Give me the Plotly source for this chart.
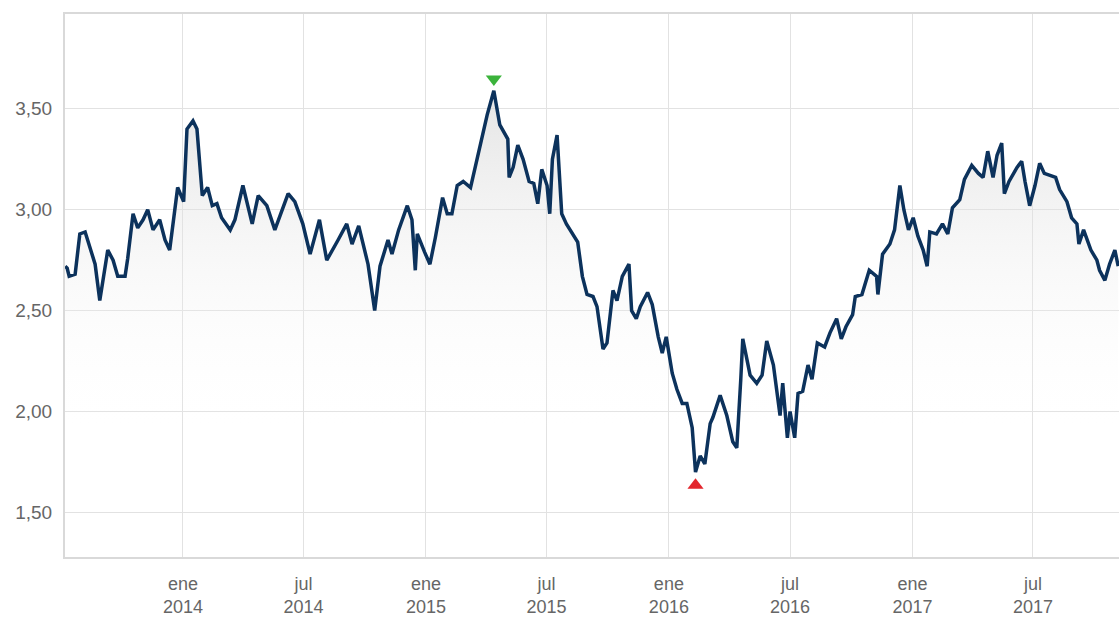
import numpy as np
import plotly.graph_objects as go

dates = [
    "2013-07-08", "2013-07-11", "2013-07-14", "2013-07-23", "2013-07-30", "2013-08-07",
    "2013-08-22", "2013-08-29", "2013-09-10", "2013-09-18", "2013-09-25", "2013-10-06",
    "2013-10-10", "2013-10-18", "2013-10-25", "2013-11-02", "2013-11-09", "2013-11-17",
    "2013-11-27", "2013-12-05", "2013-12-12", "2013-12-20", "2013-12-24", "2014-01-02",
    "2014-01-07", "2014-01-16", "2014-01-22", "2014-01-30", "2014-02-07", "2014-02-14",
    "2014-02-21", "2014-02-28", "2014-03-13", "2014-03-20", "2014-04-01", "2014-04-15",
    "2014-04-24", "2014-05-07", "2014-05-19", "2014-06-08", "2014-06-18", "2014-06-30",
    "2014-07-11", "2014-07-25", "2014-08-05", "2014-08-22", "2014-09-04", "2014-09-12",
    "2014-09-22", "2014-10-06", "2014-10-16", "2014-10-24", "2014-11-05", "2014-11-11",
    "2014-11-21", "2014-12-04", "2014-12-11", "2014-12-16", "2014-12-19", "2014-12-30",
    "2015-01-07", "2015-01-15", "2015-01-26", "2015-02-02", "2015-02-09", "2015-02-17",
    "2015-02-26", "2015-03-09", "2015-03-13", "2015-03-23", "2015-04-03", "2015-04-13",
    "2015-04-22", "2015-05-04", "2015-05-06", "2015-05-12", "2015-05-19", "2015-05-27",
    "2015-06-05", "2015-06-12", "2015-06-18", "2015-06-24", "2015-07-02", "2015-07-06",
    "2015-07-10", "2015-07-17", "2015-07-24", "2015-07-31", "2015-08-10", "2015-08-17",
    "2015-08-24", "2015-08-31", "2015-09-09", "2015-09-15", "2015-09-24", "2015-09-30",
    "2015-10-09", "2015-10-15", "2015-10-23", "2015-11-02", "2015-11-06", "2015-11-13",
    "2015-11-19", "2015-11-30", "2015-12-07", "2015-12-16", "2015-12-22", "2015-12-28",
    "2016-01-06", "2016-01-13", "2016-01-21", "2016-01-28", "2016-02-05", "2016-02-10",
    "2016-02-17", "2016-02-24", "2016-03-03", "2016-03-07", "2016-03-18", "2016-03-28",
    "2016-04-06", "2016-04-12", "2016-04-18", "2016-04-21", "2016-05-02", "2016-05-12",
    "2016-05-20", "2016-05-27", "2016-06-06", "2016-06-16", "2016-06-20", "2016-06-27",
    "2016-07-01", "2016-07-08", "2016-07-13", "2016-07-20", "2016-07-28", "2016-08-03",
    "2016-08-11", "2016-08-22", "2016-08-30", "2016-09-09", "2016-09-16", "2016-09-23",
    "2016-10-03", "2016-10-07", "2016-10-17", "2016-10-28", "2016-11-08", "2016-11-10",
    "2016-11-17", "2016-11-28", "2016-12-05", "2016-12-13", "2016-12-19", "2016-12-26",
    "2017-01-02", "2017-01-09", "2017-01-17", "2017-01-23", "2017-01-27", "2017-02-06",
    "2017-02-15", "2017-02-23", "2017-03-02", "2017-03-13", "2017-03-20", "2017-03-31",
    "2017-04-10", "2017-04-17", "2017-04-24", "2017-05-02", "2017-05-08", "2017-05-15",
    "2017-05-19", "2017-05-26", "2017-06-07", "2017-06-14", "2017-06-19", "2017-06-26",
    "2017-07-04", "2017-07-11", "2017-07-18", "2017-07-28", "2017-08-04", "2017-08-10",
    "2017-08-21", "2017-08-28", "2017-09-05", "2017-09-08", "2017-09-15", "2017-09-26",
    "2017-10-05", "2017-10-09", "2017-10-17", "2017-10-24", "2017-11-01", "2017-11-06",
]

prices = [
    2.72, 2.71, 2.67, 2.68, 2.88, 2.89,
    2.73, 2.55, 2.80, 2.75, 2.67, 2.67,
    2.76, 2.98, 2.91, 2.95, 3.00, 2.90,
    2.95, 2.85, 2.80, 3.00, 3.11, 3.04,
    3.40, 3.44, 3.40, 3.07, 3.11, 3.02,
    3.03, 2.96, 2.90, 2.95, 3.12, 2.93,
    3.07, 3.02, 2.90, 3.08, 3.04, 2.93,
    2.78, 2.95, 2.75, 2.85, 2.93, 2.83,
    2.92, 2.73, 2.50, 2.72, 2.85, 2.78,
    2.90, 3.02, 2.95, 2.70, 2.88, 2.79,
    2.73, 2.86, 3.06, 2.98, 2.98, 3.12,
    3.14, 3.11, 3.17, 3.30, 3.47, 3.59,
    3.42, 3.35, 3.16, 3.21, 3.32, 3.25,
    3.14, 3.13, 3.03, 3.20, 3.12, 2.98,
    3.25, 3.37, 2.98, 2.93, 2.88, 2.84,
    2.67, 2.58, 2.57, 2.52, 2.31, 2.34,
    2.60, 2.55, 2.67, 2.73, 2.50, 2.46,
    2.52, 2.59, 2.53, 2.37, 2.29, 2.37,
    2.19, 2.11, 2.04, 2.04, 1.92, 1.70,
    1.78, 1.74, 1.94, 1.97, 2.08, 1.98,
    1.85, 1.82, 2.16, 2.36, 2.18, 2.14,
    2.18, 2.35, 2.23, 1.98, 2.14, 1.87,
    2.00, 1.87, 2.09, 2.10, 2.23, 2.16,
    2.34, 2.32, 2.39, 2.46, 2.36, 2.42,
    2.48, 2.57, 2.58, 2.70, 2.67, 2.58,
    2.78, 2.83, 2.90, 3.12, 3.00, 2.90,
    2.96, 2.87, 2.80, 2.72, 2.89, 2.88,
    2.93, 2.88, 3.01, 3.05, 3.15, 3.22,
    3.18, 3.16, 3.29, 3.16, 3.27, 3.33,
    3.08, 3.14, 3.21, 3.24, 3.14, 3.02,
    3.12, 3.23, 3.18, 3.17, 3.16, 3.10,
    3.04, 2.96, 2.93, 2.83, 2.90, 2.80,
    2.75, 2.70, 2.65, 2.73, 2.80, 2.72,
]

tick_dates = ["2014-01-01", "2014-07-01", "2015-01-01", "2015-07-01",
              "2016-01-01", "2016-07-01", "2017-01-01", "2017-07-01"]
tick_labels = ["ene<br>2014", "jul<br>2014", "ene<br>2015", "jul<br>2015",
               "ene<br>2016", "jul<br>2016", "ene<br>2017", "jul<br>2017"]
y_ticks = [1.5, 2.0, 2.5, 3.0, 3.5]

p = np.array(prices)
i_max = int(np.argmax(p))
i_min = int(np.argmin(p))

fig = go.Figure()
fig.add_trace(go.Scatter(
    x=dates, y=prices, mode="lines",
    line=dict(color="#0c325c", width=3.5),
    fill="tozeroy",
    fillgradient=dict(
        type="vertical",
        colorscale=[[0, "rgba(255,255,255,0)"], [1, "rgba(210,210,210,0.6)"]],
        start=1.9, stop=3.6,
    ),
    hoverinfo="skip", showlegend=False,
))
fig.add_trace(go.Scatter(
    x=[dates[i_max]], y=[prices[i_max] + 0.058], mode="markers",
    marker=dict(symbol="triangle-down", size=14, color="#3bb33b", line=dict(width=0)),
    showlegend=False, hoverinfo="skip",
))
fig.add_trace(go.Scatter(
    x=[dates[i_min]], y=[prices[i_min] - 0.065], mode="markers",
    marker=dict(symbol="triangle-up", size=14, color="#e3262d", line=dict(width=0)),
    showlegend=False, hoverinfo="skip",
))

fig.update_layout(
    width=1119, height=617,
    margin=dict(l=65, r=0, t=14, b=54),
    paper_bgcolor="white", plot_bgcolor="white",
    separators=",.",
    font=dict(family="Arial, Liberation Sans, sans-serif", size=18, color="#666666"),
    xaxis=dict(
        type="date",
        range=["2013-07-07 18:00", "2017-11-07 05:00"],
        tickvals=tick_dates, ticktext=tick_labels,
        tickfont=dict(size=18),
        showgrid=True, gridcolor="#e2e2e2", gridwidth=1,
        showline=True, linecolor="#d9d9d9", linewidth=2, mirror=True,
        ticks="", ticklabelstandoff=9,
        zeroline=False,
    ),
    yaxis=dict(
        range=[1.279, 3.97],
        tickvals=y_ticks, tickformat=".2f",
        tickfont=dict(size=19),
        showgrid=True, gridcolor="#e2e2e2", gridwidth=1,
        showline=True, linecolor="#d9d9d9", linewidth=2, mirror=False,
        ticks="", ticklabelstandoff=7,
        zeroline=False,
    ),
)

fig.write_html(
    "out.html",
    config={"displayModeBar": False},
    post_script="document.body.style.margin='0px';document.body.style.overflow='hidden';",
)
